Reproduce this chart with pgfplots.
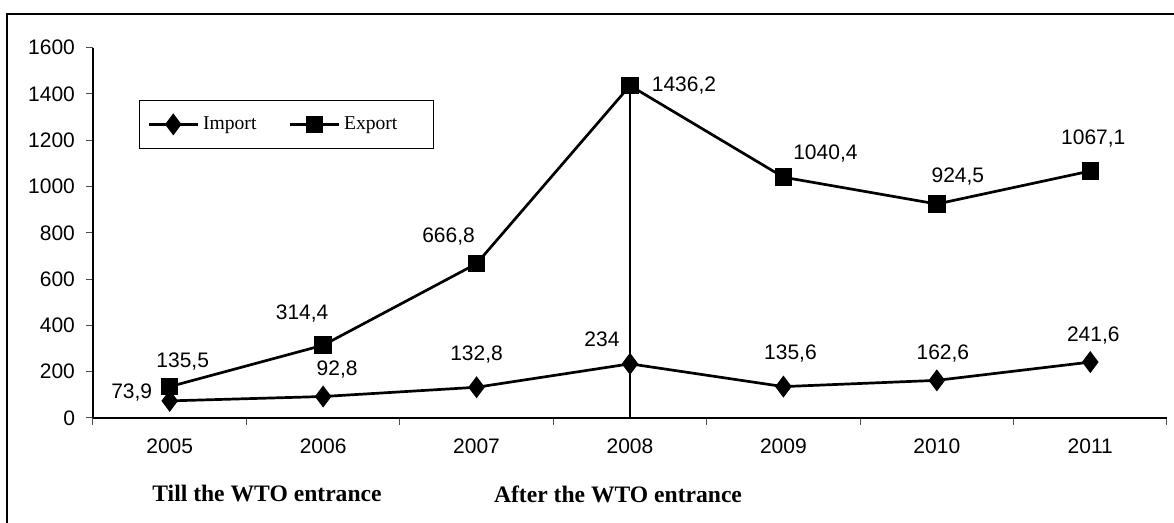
\documentclass[border=0pt]{standalone}
\usepackage{fontspec}
\setmainfont{Liberation Serif}
\newfontfamily\arial{Liberation Sans}
\usepackage{pgfplots}
\pgfplotsset{compat=1.18}
\begin{document}
\begin{tikzpicture}
\useasboundingbox (0,0) rectangle (587pt,261.5pt);
\draw[line width=1pt] (3.5pt,0) -- (3.5pt,254.5pt) -- (587pt,254.5pt);
\begin{axis}[
  at={(46.5pt,52.5pt)}, anchor=south west,
  scale only axis, width=537pt, height=185.15pt,
  xmin=0, xmax=7, ymin=0, ymax=1600,
  axis lines=left, axis line style={-, line width=0.6pt},
  clip=false,
  xtick={0,1,...,7}, xticklabels={,,,,,,,,},
  extra x ticks={0.5,1.5,2.5,3.5,4.5,5.5,6.5},
  extra x tick labels={2005,2006,2007,2008,2009,2010,2011},
  extra x tick style={major tick length=0pt, tick style={draw=none}},
  ytick={0,200,...,1600},
  tick align=outside,
  major tick length=3.5pt,
  tick style={line width=0.5pt, color=black!70},
  ticklabel style={font=\arial\fontsize{10.5}{12}\selectfont},
  xticklabel style={yshift=-7pt},
  yticklabel style={xshift=-2pt},
  /pgf/number format/assume math mode=true,
  /pgf/number format/1000 sep={},
  legend columns=2,
  legend style={at={(0.0428,0.8588)}, anchor=north west, draw=black, line width=0.5pt,
    font=\fontsize{9.8}{11}\selectfont, inner xsep=4pt, inner ysep=6pt,
    /tikz/every even column/.append style={column sep=14pt}},
  legend image code/.code={\draw[mark repeat=2,mark phase=2] plot coordinates {(0cm,0cm) (0.43cm,0cm) (0.86cm,0cm)};},
]
\addplot[black, line width=1.35pt, mark=diamond*, mark size=4.4pt, mark options={solid}]
  coordinates {(0.5,73.9) (1.5,92.8) (2.5,132.8) (3.5,234) (4.5,135.6) (5.5,162.6) (6.5,241.6)};
\addlegendentry{Import}
\addplot[black, line width=1.35pt, mark=square*, mark size=3.7pt, mark options={solid}]
  coordinates {(0.5,135.5) (1.5,314.4) (2.5,666.8) (3.5,1436.2) (4.5,1040.4) (5.5,924.5) (6.5,1067.1)};
\addlegendentry{Export\rule{12pt}{0pt}}
\addplot[black, line width=1.35pt, forget plot] coordinates {(3.5,0) (3.5,1436.2)};
\begin{scope}[every node/.style={font=\arial\fontsize{10.5}{12}\selectfont}]
\node[xshift=6.5pt,yshift=12.5pt] at (axis cs:0.5,135.5) {135,5};
\node[xshift=-10.5pt,yshift=16pt] at (axis cs:1.5,314.4) {314,4};
\node[xshift=-14pt,yshift=13.5pt] at (axis cs:2.5,666.8) {666,8};
\node[xshift=27pt,yshift=0pt] at (axis cs:3.5,1436.2) {1436,2};
\node[xshift=21pt,yshift=12pt] at (axis cs:4.5,1040.4) {1040,4};
\node[xshift=10.5pt,yshift=14pt] at (axis cs:5.5,924.5) {924,5};
\node[xshift=1.5pt,yshift=16.5pt] at (axis cs:6.5,1067.1) {1067,1};
\node[xshift=-19pt,yshift=4pt] at (axis cs:0.5,73.9) {73,9};
\node[xshift=7pt,yshift=13.5pt] at (axis cs:1.5,92.8) {92,8};
\node[xshift=0pt,yshift=16.5pt] at (axis cs:2.5,132.8) {132,8};
\node[xshift=-14pt,yshift=12.5pt] at (axis cs:3.5,234) {234};
\node[xshift=3.5pt,yshift=16.5pt] at (axis cs:4.5,135.6) {135,6};
\node[xshift=3pt,yshift=13.5pt] at (axis cs:5.5,162.6) {162,6};
\node[xshift=1.5pt,yshift=13.5pt] at (axis cs:6.5,241.6) {241,6};
\end{scope}
\end{axis}
\node at (133.5pt,14.5pt) {\fontsize{11.8}{14}\selectfont\bfseries Till the WTO entrance};
\node at (309pt,14.5pt) {\fontsize{11.8}{14}\selectfont\bfseries After the WTO entrance};
\end{tikzpicture}
\end{document}
